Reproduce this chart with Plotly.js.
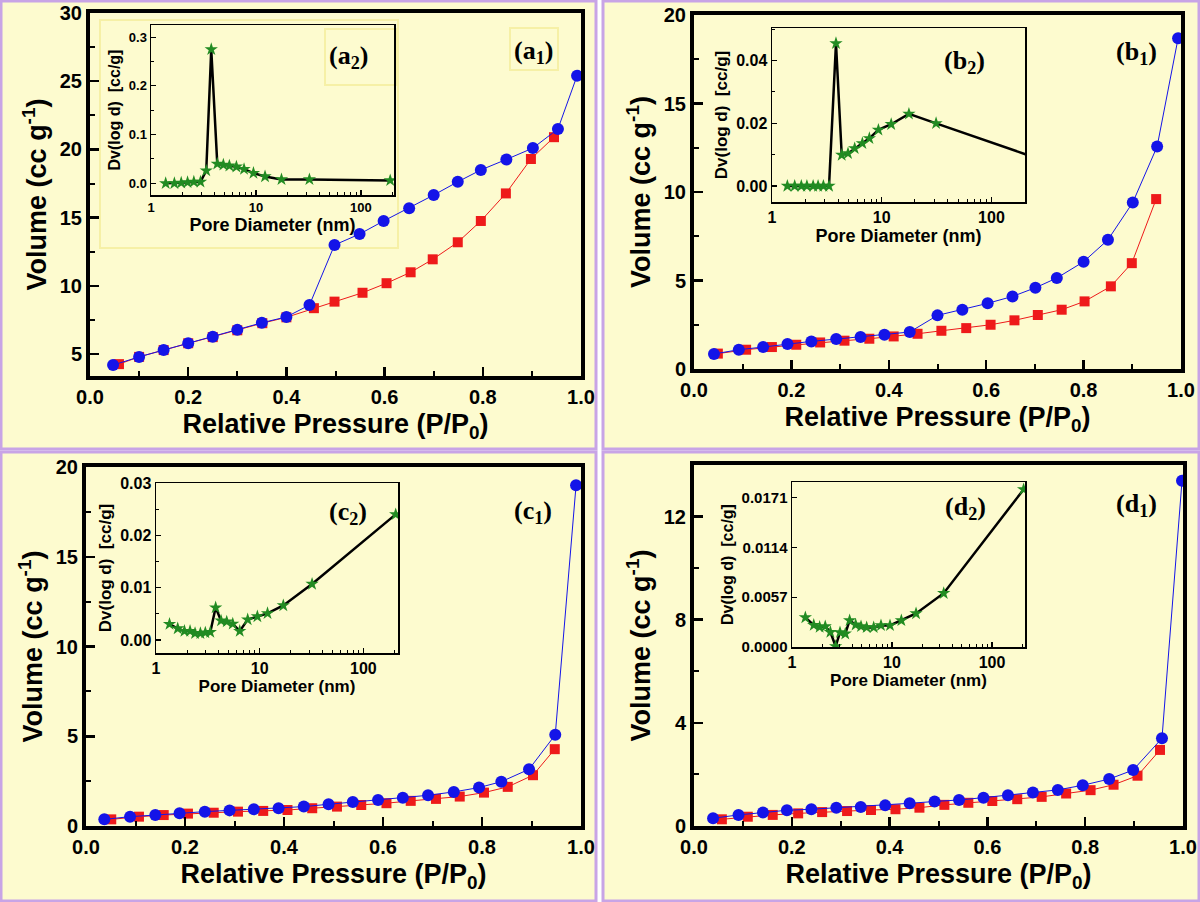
<!DOCTYPE html>
<html>
<head>
<meta charset="utf-8">
<script src="https://cdn.plot.ly/plotly-3.0.1.min.js"></script>
<style>
  body { margin: 0; background: #ffffff; }
  #plotArea { width: 1200px; height: 902px; }
</style>
</head>
<body>
<div id="plotArea"></div>
<script>
// isotherm data (relative pressure vs volume)
var aBlueX = [0.047, 0.10, 0.15, 0.20, 0.25, 0.30, 0.35, 0.40, 0.447, 0.498, 0.549, 0.598, 0.65, 0.70, 0.749, 0.796, 0.848, 0.902, 0.953, 0.992];
var aBlueY = [4.2, 4.8, 5.3, 5.8, 6.27, 6.78, 7.3, 7.73, 8.6, 13.0, 13.8, 14.76, 15.7, 16.66, 17.63, 18.5, 19.27, 20.1, 21.5, 25.4];
var aRedX = [0.059, 0.10, 0.15, 0.20, 0.25, 0.30, 0.351, 0.40, 0.456, 0.498, 0.555, 0.604, 0.653, 0.698, 0.749, 0.796, 0.847, 0.898, 0.945];
var aRedY = [4.27, 4.8, 5.3, 5.8, 6.25, 6.75, 7.27, 7.7, 8.37, 8.85, 9.5, 10.2, 11.0, 11.95, 13.2, 14.76, 16.78, 19.3, 20.9];

var bBlueX = [0.041, 0.092, 0.142, 0.192, 0.241, 0.292, 0.342, 0.391, 0.443, 0.50, 0.551, 0.603, 0.654, 0.701, 0.745, 0.80, 0.85, 0.901, 0.951, 0.994];
var bBlueY = [0.85, 1.09, 1.24, 1.41, 1.56, 1.69, 1.81, 1.94, 2.09, 3.03, 3.35, 3.71, 4.10, 4.59, 5.14, 6.06, 7.30, 9.41, 12.57, 18.68];
var bRedX = [0.049, 0.107, 0.16, 0.21, 0.259, 0.309, 0.36, 0.41, 0.459, 0.508, 0.559, 0.609, 0.658, 0.706, 0.755, 0.802, 0.856, 0.899, 0.949];
var bRedY = [0.87, 1.09, 1.24, 1.37, 1.5, 1.6, 1.71, 1.84, 1.99, 2.16, 2.31, 2.5, 2.75, 3.05, 3.35, 3.82, 4.67, 5.98, 9.6];

var cBlueX = [0.037, 0.089, 0.14, 0.189, 0.24, 0.29, 0.339, 0.389, 0.44, 0.49, 0.539, 0.59, 0.64, 0.691, 0.743, 0.794, 0.839, 0.895, 0.948, 0.99];
var cBlueY = [0.37, 0.52, 0.61, 0.71, 0.8, 0.87, 0.93, 0.99, 1.08, 1.21, 1.34, 1.45, 1.58, 1.71, 1.9, 2.14, 2.47, 3.16, 5.08, 18.98];
var cRedX = [0.051, 0.107, 0.157, 0.206, 0.258, 0.307, 0.358, 0.407, 0.457, 0.507, 0.556, 0.607, 0.656, 0.707, 0.755, 0.804, 0.852, 0.903, 0.947];
var cRedY = [0.37, 0.52, 0.61, 0.69, 0.74, 0.8, 0.84, 0.89, 0.99, 1.08, 1.17, 1.27, 1.4, 1.51, 1.64, 1.86, 2.18, 2.83, 4.28];

var dBlueX = [0.039, 0.091, 0.141, 0.19, 0.24, 0.291, 0.341, 0.391, 0.441, 0.492, 0.542, 0.592, 0.642, 0.693, 0.744, 0.795, 0.849, 0.898, 0.957, 0.998];
var dBlueY = [0.30, 0.43, 0.52, 0.61, 0.65, 0.71, 0.74, 0.8, 0.88, 0.95, 1.01, 1.1, 1.19, 1.3, 1.4, 1.58, 1.82, 2.17, 3.4, 13.39];
var dRedX = [0.057, 0.11, 0.161, 0.213, 0.262, 0.313, 0.362, 0.412, 0.461, 0.512, 0.561, 0.61, 0.661, 0.711, 0.761, 0.811, 0.858, 0.907, 0.953];
var dRedY = [0.26, 0.36, 0.43, 0.49, 0.54, 0.58, 0.62, 0.65, 0.71, 0.82, 0.9, 0.97, 1.04, 1.13, 1.26, 1.39, 1.6, 1.95, 2.95];

// pore size distributions (insets)
var aPoreD = [1.38, 1.67, 1.94, 2.23, 2.56, 2.96, 3.36, 3.75, 4.28, 4.89, 5.58, 6.51, 7.7, 9.46, 12.2, 17.5, 32.3, 190];
var aDv = [0.0, 0.0, 0.001, 0.002, 0.003, 0.003, 0.026, 0.275, 0.04, 0.038, 0.036, 0.034, 0.029, 0.021, 0.014, 0.008, 0.008, 0.006];

var bPoreD = [1.38, 1.61, 1.85, 2.08, 2.37, 2.63, 2.94, 3.31, 3.83, 4.32, 4.93, 5.67, 6.66, 7.72, 9.33, 12.2, 17.7, 31.3, 300];
var bDv = [0, 0, 0, 0, 0, 0, 0, 0, 0.0455, 0.0099, 0.0104, 0.012, 0.0136, 0.0152, 0.0179, 0.0197, 0.023, 0.02, 0.0081];

var cPoreD = [1.35, 1.62, 1.88, 2.13, 2.38, 2.68, 2.99, 3.34, 3.76, 4.24, 4.81, 5.5, 6.42, 7.66, 9.5, 11.9, 16.9, 32, 205];
var cDv = [0.00305, 0.0022, 0.0017, 0.0017, 0.0013, 0.0013, 0.0014, 0.0015, 0.0062, 0.0037, 0.0035, 0.0031, 0.0017, 0.0039, 0.0045, 0.0051, 0.0066, 0.0107, 0.024];

var dPoreD = [1.36, 1.65, 1.89, 2.15, 2.42, 2.73, 3.02, 3.41, 3.77, 4.33, 4.9, 5.58, 6.56, 7.76, 9.55, 12.4, 17.4, 32.9, 207];
var dDv = [0.00338, 0.00251, 0.00228, 0.00236, 0.00171, 0.00008, 0.00167, 0.00152, 0.00304, 0.00255, 0.00236, 0.00224, 0.00224, 0.00247, 0.00247, 0.00304, 0.00384, 0.00616, 0.01805];

var dTickVals = [0, 0.0057, 0.0114, 0.0171];
var dTickText = ["0.0000", "0.0057", "0.0114", "0.0171"];

// pixel -> paper helpers
function px(x) { return x / 1200; }
function py(y) { return 1 - y / 902; }

var BLUE = "#1414e8", RED = "#ee1a1a", GREEN = "#228b22";
var FONT = "Liberation Sans, Arial, sans-serif";

function iso(x, y, color, symbol, size, n) {
    return {
        x: x, y: y, mode: "lines+markers", type: "scatter",
        xaxis: "x" + n, yaxis: "y" + n,
        line: {color: color, width: 1},
        marker: {color: color, symbol: symbol, size: size},
        showlegend: false, hoverinfo: "skip"
    };
}
function psd(x, y, n) {
    return {
        x: x, y: y, mode: "lines+markers", type: "scatter",
        xaxis: "x" + n, yaxis: "y" + n,
        line: {color: "black", width: 2.5},
        marker: {color: GREEN, symbol: "star", size: 10},
        showlegend: false, hoverinfo: "skip"
    };
}

var data = [
    iso(aRedX, aRedY, RED, "square", 10, ""), iso(aBlueX, aBlueY, BLUE, "circle", 12, ""),
    iso(bRedX, bRedY, RED, "square", 10, 2), iso(bBlueX, bBlueY, BLUE, "circle", 12, 2),
    iso(cRedX, cRedY, RED, "square", 10, 3), iso(cBlueX, cBlueY, BLUE, "circle", 12, 3),
    iso(dRedX, dRedY, RED, "square", 10, 4), iso(dBlueX, dBlueY, BLUE, "circle", 12, 4),
    psd(aPoreD, aDv, 5), psd(bPoreD, bDv, 6), psd(cPoreD, cDv, 7), psd(dPoreD, dDv, 8)
];

function mainX(dom, anchor) {
    return {
        domain: dom, anchor: anchor, range: [0, 1], dtick: 0.2, tick0: 0, tickformat: ".1f",
        ticks: "inside", ticklen: 9, tickwidth: 2.5, tickcolor: "black",
        minor: {dtick: 0.1, ticks: "inside", ticklen: 5, tickwidth: 2, tickcolor: "black"},
        showline: true, linewidth: 4, linecolor: "black", mirror: true,
        showgrid: false, zeroline: false,
        tickfont: {family: FONT, size: 20, color: "black", weight: "bold"},
        title: {text: "Relative Pressure (P/P<sub>0</sub>)", standoff: 8,
                font: {family: FONT, size: 27, color: "black", weight: "bold"}}
    };
}
function mainY(dom, anchor, range, dtick) {
    return {
        domain: dom, anchor: anchor, range: range, dtick: dtick, tick0: 0,
        ticks: "inside", ticklen: 9, tickwidth: 2.5, tickcolor: "black",
        minor: {dtick: dtick / 2, ticks: "inside", ticklen: 5, tickwidth: 2, tickcolor: "black"},
        showline: true, linewidth: 4, linecolor: "black", mirror: true,
        showgrid: false, zeroline: false,
        tickfont: {family: FONT, size: 20, color: "black", weight: "bold"},
        title: {text: "Volume (cc g<sup>-1</sup>)", standoff: 6,
                font: {family: FONT, size: 27, color: "black", weight: "bold"}}
    };
}

var logMinor = [];
[1, 10, 100].forEach(function (d) {
    for (var k = 2; k <= 9; k++) logMinor.push(d * k);
});

function insetX(dom, anchor, range, tsize, titsize) {
    return {
        domain: dom, anchor: anchor, type: "log", range: range,
        tickvals: [1, 10, 100], ticktext: ["1", "10", "100"],
        ticks: "inside", ticklen: 5, tickwidth: 1.2, tickcolor: "black",
        minor: {tickmode: "array", tickvals: logMinor, ticks: "inside", ticklen: 3, tickwidth: 1, tickcolor: "black"},
        showline: true, linewidth: 1.5, linecolor: "black", mirror: true,
        showgrid: false, zeroline: false,
        tickfont: {family: FONT, size: tsize, color: "black", weight: "bold"},
        title: {text: "Pore Diameter (nm)", standoff: 2,
                font: {family: FONT, size: titsize, color: "black", weight: "bold"}}
    };
}
function insetY(dom, anchor, range, tickvals, ticktext, minorD, tsize, titsize) {
    var ax = {
        domain: dom, anchor: anchor, range: range,
        tickvals: tickvals, ticktext: ticktext,
        ticks: "inside", ticklen: 5, tickwidth: 1.2, tickcolor: "black",
        showline: true, linewidth: 1.5, linecolor: "black", mirror: true,
        showgrid: false, zeroline: false,
        tickfont: {family: FONT, size: tsize, color: "black", weight: "bold"},
        title: {text: "Dv(log d)  [cc/g]", standoff: 4,
                font: {family: FONT, size: titsize, color: "black", weight: "bold"}}
    };
    if (minorD) ax.minor = {dtick: minorD, tick0: 0, ticks: "inside", ticklen: 3, tickwidth: 1, tickcolor: "black"};
    return ax;
}

var layout = {
    width: 1200, height: 902,
    margin: {l: 0, r: 0, t: 0, b: 0},
    paper_bgcolor: "#ffffff",
    plot_bgcolor: "rgba(0,0,0,0)",
    xaxis: mainX([px(90), px(581)], "y"),
    yaxis: mainY([py(376), py(13)], "x", [3.4, 30], 5),
    xaxis2: mainX([px(694), px(1181)], "y2"),
    yaxis2: mainY([py(369), py(15)], "x2", [0, 20], 5),
    xaxis3: mainX([px(86), px(581)], "y3"),
    yaxis3: mainY([py(826), py(467)], "x3", [0, 20], 5),
    xaxis4: mainX([px(694), px(1183)], "y4"),
    yaxis4: mainY([py(826), py(465)], "x4", [0, 14], 4),
    xaxis5: insetX([px(151), px(394)], "y5", [0, 2.315], 13, 18),
    yaxis5: insetY([py(195), py(25)], "x5", [-0.024, 0.325], [0, 0.1, 0.2, 0.3], ["0.0", "0.1", "0.2", "0.3"], 0.05, 13, 16),
    xaxis6: insetX([px(772), px(1025)], "y6", [0, 2.306], 16, 18),
    yaxis6: insetY([py(202), py(28)], "x6", [-0.0051, 0.0504], [0, 0.02, 0.04], ["0.00", "0.02", "0.04"], 0.01, 16, 17),
    xaxis7: insetX([px(156), px(398)], "y7", [0, 2.334], 16, 17),
    yaxis7: insetY([py(653), py(483)], "x7", [-0.00248, 0.03], [0, 0.01, 0.02, 0.03], ["0.00", "0.01", "0.02", "0.03"], 0.005, 16, 17),
    xaxis8: insetX([px(792), px(1025)], "y8", [0, 2.33], 16, 17),
    yaxis8: insetY([py(647), py(482)], "x8", [0, 0.0189], dTickVals, dTickText, 0, 15, 16),
    shapes: [],
    annotations: []
};

// panel frames: pale yellow fill with lavender border
[[1, 1, 596, 449], [603, 1, 1199, 449], [1, 452, 596, 901], [603, 452, 1199, 901]].forEach(function (r) {
    layout.shapes.push({type: "rect", xref: "paper", yref: "paper", layer: "below",
        x0: px(r[0]), x1: px(r[2]), y0: py(r[3]), y1: py(r[1]),
        fillcolor: "#fdfbcf", line: {color: "#c8a4e6", width: 3}});
});
// faint yellow boxes in panel a
[[100, 20, 398, 248], [325, 29, 397, 85], [510, 28, 558, 70]].forEach(function (r) {
    layout.shapes.push({type: "rect", xref: "paper", yref: "paper", layer: "below",
        x0: px(r[0]), x1: px(r[2]), y0: py(r[3]), y1: py(r[1]),
        line: {color: "#f6f0a6", width: 2}});
});

var labels = [["(a<sub>1</sub>)", 533, 52], ["(a<sub>2</sub>)", 348, 57],
              ["(b<sub>1</sub>)", 1136, 53], ["(b<sub>2</sub>)", 964, 62],
              ["(c<sub>1</sub>)", 533, 512], ["(c<sub>2</sub>)", 348, 513],
              ["(d<sub>1</sub>)", 1136, 505], ["(d<sub>2</sub>)", 965, 508]];
labels.forEach(function (l) {
    layout.annotations.push({text: l[0], xref: "paper", yref: "paper", x: px(l[1]), y: py(l[2]),
        xanchor: "center", yanchor: "middle", showarrow: false,
        font: {family: "Liberation Serif, Times New Roman, serif", size: 26, color: "black", weight: "bold"}});
});

Plotly.newPlot("plotArea", data, layout, {staticPlot: true});
</script>
</body>
</html>
